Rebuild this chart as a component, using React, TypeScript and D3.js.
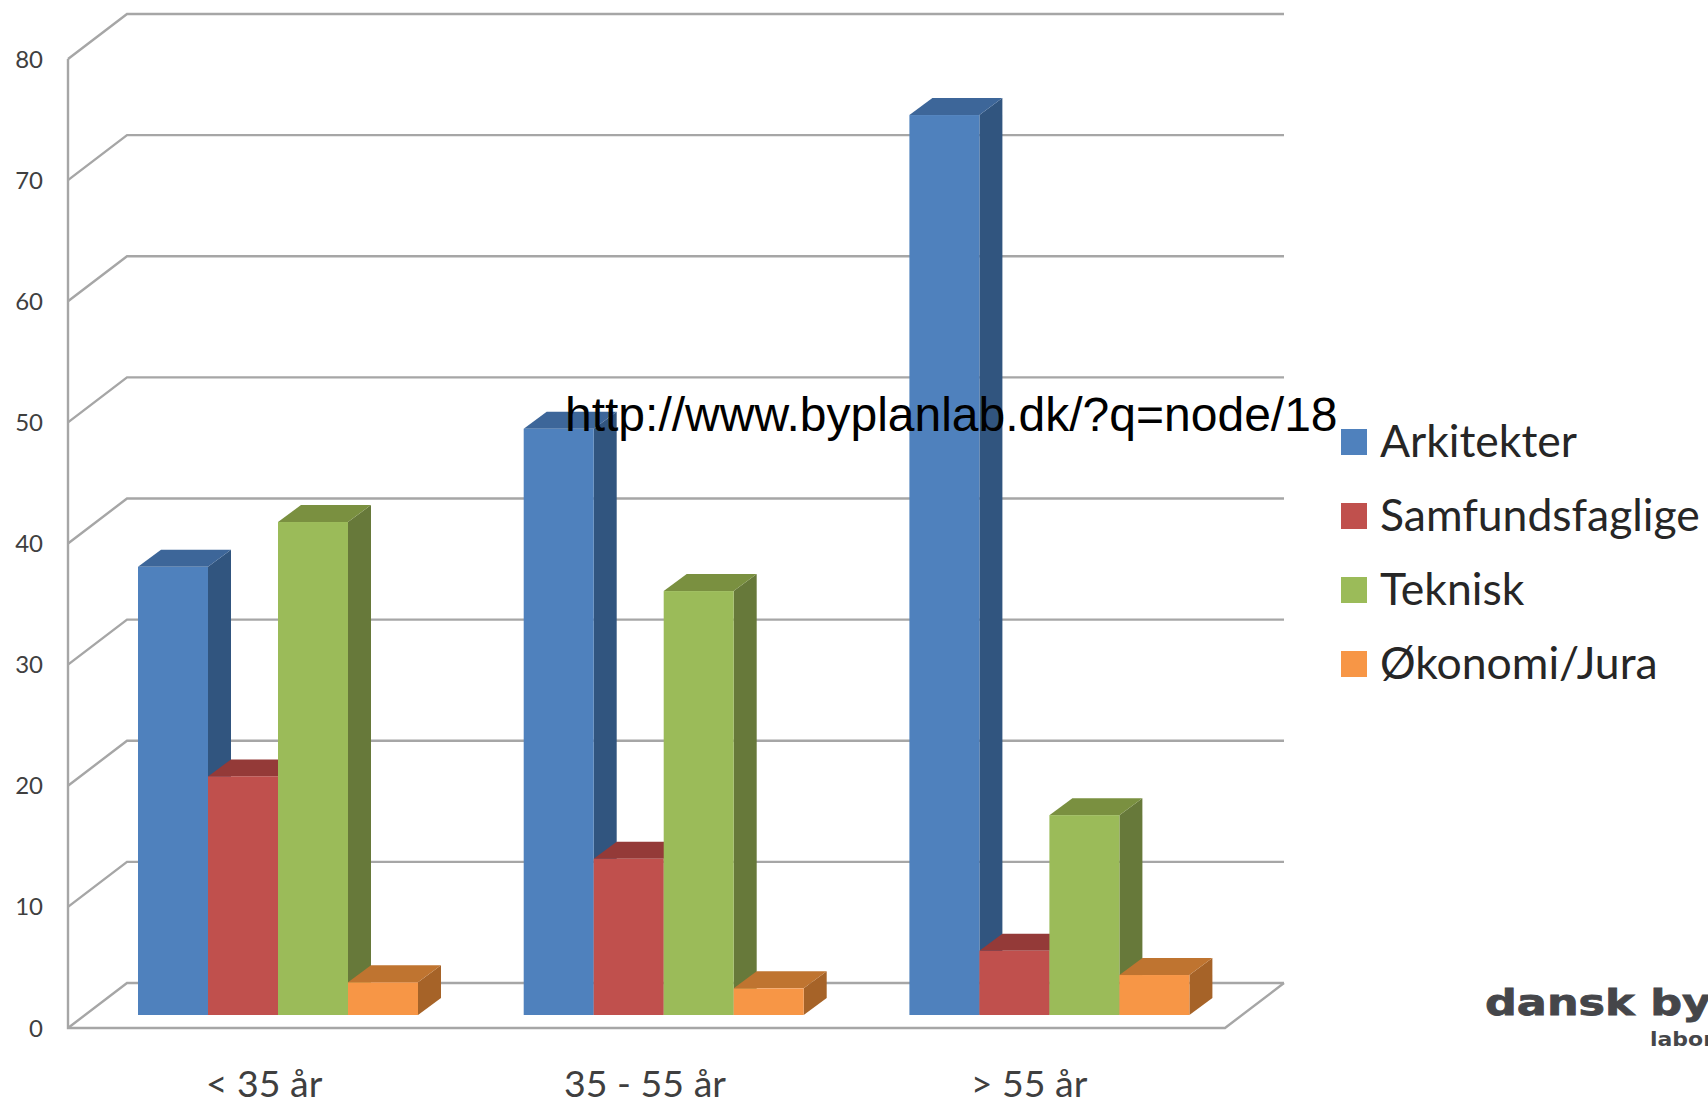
import React from "react";
import * as d3 from "d3";

// Age groups along the floor of the 3D column chart
const ageGroups = ["< 35 år", "35 - 55 år", "> 55 år"];
const seriesNames = ["Arkitekter", "Samfundsfaglige", "Teknisk", "Økonomi/Jura"];

// Values per series, in age group order
const arkitekter = [37, 48.4, 74.3];
const samfundsfaglige = [19.7, 12.9, 5.3];
const teknisk = [40.7, 35, 16.5];
const oekonomiJura = [2.7, 2.2, 3.3];
const seriesValues = [arkitekter, samfundsfaglige, teknisk, oekonomiJura];

const yTicks = [0, 10, 20, 30, 40, 50, 60, 70, 80];

// Face colours per series: front, top, side
const frontColors = ["#4F81BD", "#C0504D", "#9BBB59", "#F79646"];
const topColors = ["#3D6699", "#943A38", "#7A9040", "#BF7430"];
const sideColors = ["#31557F", "#8C3A38", "#67793A", "#A66328"];

const sourceUrl = "http://www.byplanlab.dk/?q=node/18";
const logoMain = "dansk by";
const logoSub = "labor";

const WIDTH = 1708;
const HEIGHT = 1102;
const GRID = "#A6A6A6";
const TEXT = "#3F3F3F";
const SANS = "Lato, Carlito, sans-serif";

// Projection of the chart box
const xLeft = 68;
const xRight = 1225;
const wallDx = 59;
const wallDy = -45;
const barDx = 23;
const barDy = -17;

const yAxis = d3.scaleLinear().domain([0, 80]).range([1028, 59]);
const yBar = d3.scaleLinear().domain([0, 80]).range([1015, 46]);
const groupX = d3.scaleBand<string>().domain(ageGroups).range([138, 138 + 3 * 385.7]);
const barX = d3.scaleBand<string>().domain(seriesNames).range([0, 280]);

const poly = d3.line<[number, number]>();
const closed = (pts: [number, number][]) => poly(pts) + "Z";

function Bar({ group, si }: { group: number; si: number }) {
  const name = seriesNames[si];
  const x0 = (groupX(ageGroups[group]) as number) + (barX(name) as number);
  const x1 = x0 + barX.bandwidth();
  const yTop = yBar(seriesValues[si][group]);
  const yBase = yBar(0);
  return (
    <g>
      <path
        d={closed([[x1, yBase], [x1 + barDx, yBase + barDy], [x1 + barDx, yTop + barDy], [x1, yTop]])}
        fill={sideColors[si]}
      />
      <path
        d={closed([[x0, yTop], [x0 + barDx, yTop + barDy], [x1 + barDx, yTop + barDy], [x1, yTop]])}
        fill={topColors[si]}
      />
      <rect x={x0} y={yTop} width={x1 - x0} height={yBase - yTop} fill={frontColors[si]} />
    </g>
  );
}

export default function App() {
  const floor = yAxis(0);
  return (
    <svg
      width={WIDTH}
      height={HEIGHT}
      viewBox={`0 0 ${WIDTH} ${HEIGHT}`}
      style={{ position: "absolute", left: 0, top: 0, display: "block", background: "#fff" }}
    >
      {/* Back wall gridlines and their diagonals on the side wall */}
      <g fill="none" stroke={GRID} strokeWidth={2.4} strokeLinejoin="miter">
        {yTicks.map((t) => (
          <path
            key={t}
            d={poly([
              [xLeft, yAxis(t)],
              [xLeft + wallDx, yAxis(t) + wallDy],
              [xRight + wallDx, yAxis(t) + wallDy],
            ]) as string}
          />
        ))}
        <path d={poly([[xLeft, yAxis(80)], [xLeft, floor], [xRight, floor], [xRight + wallDx, floor + wallDy]]) as string} />
      </g>

      {/* Columns, painted left to right so each front hides its neighbour's side */}
      {ageGroups.map((_, g) => (
        <g key={g}>
          {seriesNames.map((_, s) => (
            <Bar key={s} group={g} si={s} />
          ))}
        </g>
      ))}

      {/* Value axis labels */}
      <g fontFamily={SANS} fontSize={24} fill={TEXT} textAnchor="end">
        {yTicks.map((t) => (
          <text key={t} x={43} y={yAxis(t) + 8.5}>
            {t}
          </text>
        ))}
      </g>

      {/* Category labels */}
      <g fontFamily={SANS} fontSize={37.5} fill={TEXT} textAnchor="middle">
        {ageGroups.map((c, i) => (
          <text key={c} x={[264, 645, 1029][i]} y={1097}>
            {c}
          </text>
        ))}
      </g>

      {/* Legend */}
      {seriesNames.map((n, i) => (
        <g key={n}>
          <rect x={1341} y={429 + i * 74} width={26} height={26} fill={frontColors[i]} />
          <text x={1380} y={457 + i * 74} fontFamily={SANS} fontSize={44.5} fill="#262626">
            {n}
          </text>
        </g>
      ))}

      {/* Source address laid over the chart */}
      <text x={565} y={431} fontFamily="'Liberation Sans', Arial, sans-serif" fontSize={48} fill="#000">
        {sourceUrl}
      </text>

      {/* Organisation mark, cut by the right edge */}
      <text
        x={1485}
        y={1015}
        fontFamily="'DejaVu Sans', sans-serif"
        fontWeight={700}
        fontSize={36}
        fill="#45464A"
        stroke="#45464A"
        strokeWidth={0.8}
        textLength={226}
        lengthAdjust="spacingAndGlyphs"
      >
        {logoMain}
      </text>
      <text
        x={1650}
        y={1046}
        fontFamily="'DejaVu Sans', sans-serif"
        fontWeight={700}
        fontSize={20}
        fill="#45464A"
        textLength={64}
        lengthAdjust="spacingAndGlyphs"
      >
        {logoSub}
      </text>
    </svg>
  );
}
